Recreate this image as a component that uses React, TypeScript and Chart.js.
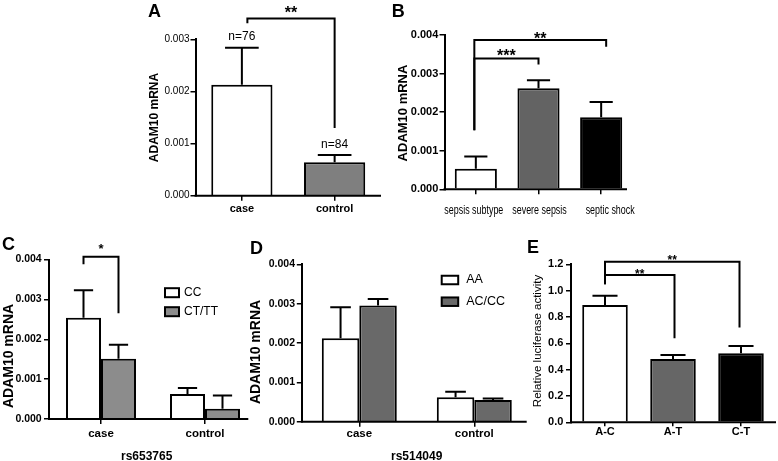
import React, { useEffect, useRef } from 'react';
import { Chart, registerables } from 'chart.js';

Chart.register(...registerables);

const SANS = "'Liberation Sans', Arial, Helvetica, sans-serif";

// ---------- Panel A ----------
const aCategories = ['case', 'control'];
const aMeans = [0.00213, 0.00064];
const aErrors = [0.00071, 0.00014];
const aCounts = ['n=76', 'n=84'];

// ---------- Panel B ----------
const bCategories = ['sepsis subtype', 'severe sepsis', 'septic shock'];
const bMeans = [0.00053, 0.00262, 0.00187];
const bErrors = [0.00032, 0.00021, 0.00039];

// ---------- Panel C (rs653765) ----------
const cCategories = ['case', 'control'];
const cSeriesNames = ['CC', 'CT/TT'];
const cCC = [0.00254, 0.00063];
const cCCErr = [0.00069, 0.00015];
const cCT = [0.00151, 0.00026];
const cCTErr = [0.00035, 0.00033];

// ---------- Panel D (rs514049) ----------
const dCategories = ['case', 'control'];
const dSeriesNames = ['AA', 'AC/CC'];
const dAA = [0.00212, 0.00062];
const dAAErr = [0.00079, 0.00014];
const dAC = [0.00295, 0.00055];
const dACErr = [0.00017, 0.00004];

// ---------- Panel E ----------
const eCategories = ['A-C', 'A-T', 'C-T'];
const eMeans = [0.89, 0.481, 0.524];
const eErrors = [0.072, 0.03, 0.056];

type Series = { label: string; data: number[]; errors: number[]; color: string | string[] };
type Bracket = {
  from: [number, number];
  to: [number, number];
  y: number;
  yFrom: number;
  yTo: number;
  label: string;
  labelY: number;
  size: number;
  dxFrom?: number;
  dxTo?: number;
};
type Panel = {
  key: string;
  canvas: { x: number; y: number; w: number; h: number };
  area: { l: number; r: number; t: number; b: number };
  letter: { text: string; x: number; y: number };
  categories: string[];
  series: Series[];
  yMax: number;
  yStep: number;
  decimals: number;
  catPct: number;
  xEnd: number;
  yTitle: { text: string; x: number; y: number; font: string };
  xTitle?: { text: string; x: number; y: number; font: string };
  yTickFont: { size: number; weight: string; family: string };
  yTickPad: number;
  xTickFont: { size: number; weight: string; family: string };
  xTickPad: number;
  xTickLen: number;
  condensedLabels?: { font: string; scaleX: number; y: number; dx: number[] };
  brackets: Bracket[];
  legend?: { x: number; y: number; gap: number; boxW: number; boxH: number; textGap: number; font: string };
  counts?: string[];
};

const panels: Panel[] = [
  {
    key: 'A',
    canvas: { x: 140, y: 0, w: 250, h: 225 },
    area: { l: 195.5, r: 381, t: 39.3, b: 195.7 },
    letter: { text: 'A', x: 148, y: 17 },
    categories: aCategories,
    series: [{ label: 'ADAM10', data: aMeans, errors: aErrors, color: ['#ffffff', '#7f7f7f'] }],
    yMax: 0.003,
    yStep: 0.001,
    decimals: 3,
    catPct: 0.66,
    xEnd: 381,
    yTitle: { text: 'ADAM10 mRNA', x: 155, y: 117.5, font: `bold 12px ${SANS}` },
    yTickFont: { size: 10, weight: 'normal', family: SANS },
    yTickPad: 1,
    xTickFont: { size: 11, weight: 'bold', family: SANS },
    xTickPad: 1.7,
    xTickLen: 5,
    brackets: [
      { from: [0, 0], to: [0, 1], y: 0.0034, yFrom: 0.00331, yTo: 0.0013, label: '**', labelY: 0.00359, size: 16, dxFrom: 5.5 },
    ],
    counts: aCounts,
  },
  {
    key: 'B',
    canvas: { x: 385, y: 0, w: 265, h: 225 },
    area: { l: 444.5, r: 632.5, t: 35, b: 189.3 },
    letter: { text: 'B', x: 391.7, y: 17 },
    categories: bCategories,
    series: [{ label: 'ADAM10', data: bMeans, errors: bErrors, color: ['#ffffff', '#636363', '#000000'] }],
    yMax: 0.004,
    yStep: 0.001,
    decimals: 3,
    catPct: 0.672,
    xEnd: 627,
    yTitle: { text: 'ADAM10 mRNA', x: 403, y: 113, font: `bold 13px ${SANS}` },
    yTickFont: { size: 11, weight: 'bold', family: SANS },
    yTickPad: 1.2,
    xTickFont: { size: 12, weight: 'normal', family: SANS },
    xTickPad: 8.8,
    xTickLen: 5,
    condensedLabels: { font: `13.5px ${SANS}`, scaleX: 0.66, y: 210.5, dx: [-2, 1, 9] },
    brackets: [
      { from: [0, 0], to: [0, 2], y: 0.003868, yFrom: 0.001534, yTo: 0.003694, label: '**', labelY: 0.00401, size: 16, dxFrom: -1.5, dxTo: 5 },
      { from: [0, 0], to: [0, 1], y: 0.003394, yFrom: 0.001534, yTo: 0.003238, label: '***', labelY: 0.003575, size: 16, dxFrom: -1.5 },
    ],
  },
  {
    key: 'C',
    canvas: { x: 0, y: 228, w: 262, h: 233 },
    area: { l: 49, r: 257, t: 259.5, b: 419 },
    letter: { text: 'C', x: 2, y: 250 },
    categories: cCategories,
    series: [
      { label: cSeriesNames[0], data: cCC, errors: cCCErr, color: '#ffffff' },
      { label: cSeriesNames[1], data: cCT, errors: cCTErr, color: '#8c8c8c' },
    ],
    yMax: 0.004,
    yStep: 0.001,
    decimals: 3,
    catPct: 0.673,
    xEnd: 248.3,
    yTitle: { text: 'ADAM10 mRNA', x: 9.5, y: 356, font: `bold 14px ${SANS}` },
    xTitle: { text: 'rs653765', x: 146.7, y: 457, font: `bold 12px ${SANS}` },
    yTickFont: { size: 10.5, weight: 'bold', family: SANS },
    yTickPad: 2.3,
    xTickFont: { size: 11.5, weight: 'bold', family: SANS },
    xTickPad: 3.1,
    xTickLen: 5,
    brackets: [
      { from: [0, 0], to: [1, 0], y: 0.00407, yFrom: 0.00388, yTo: 0.00265, label: '*', labelY: 0.00435, size: 13 },
    ],
    legend: { x: 165, y: 292.7, gap: 19, boxW: 14, boxH: 9, textGap: 5, font: `12px ${SANS}` },
  },
  {
    key: 'D',
    canvas: { x: 245, y: 228, w: 292, h: 233 },
    area: { l: 301.8, r: 531.8, t: 264.3, b: 421.7 },
    letter: { text: 'D', x: 250, y: 254 },
    categories: dCategories,
    series: [
      { label: dSeriesNames[0], data: dAA, errors: dAAErr, color: '#ffffff' },
      { label: dSeriesNames[1], data: dAC, errors: dACErr, color: '#696969' },
    ],
    yMax: 0.004,
    yStep: 0.001,
    decimals: 3,
    catPct: 0.652,
    xEnd: 526.7,
    yTitle: { text: 'ADAM10 mRNA', x: 256.5, y: 352, font: `bold 14px ${SANS}` },
    xTitle: { text: 'rs514049', x: 416.7, y: 457, font: `bold 12px ${SANS}` },
    yTickFont: { size: 10.5, weight: 'bold', family: SANS },
    yTickPad: 1.8,
    xTickFont: { size: 11.5, weight: 'bold', family: SANS },
    xTickPad: 0.4,
    xTickLen: 5,
    brackets: [],
    legend: { x: 441.7, y: 280, gap: 21.7, boxW: 16.5, boxH: 8.5, textGap: 8, font: `12.5px ${SANS}` },
  },
  {
    key: 'E',
    canvas: { x: 520, y: 228, w: 258, h: 233 },
    area: { l: 571, r: 775, t: 264.3, b: 422.3 },
    letter: { text: 'E', x: 527, y: 253 },
    categories: eCategories,
    series: [{ label: 'Luciferase', data: eMeans, errors: eErrors, color: ['#ffffff', '#666666', '#000000'] }],
    yMax: 1.2,
    yStep: 0.2,
    decimals: 1,
    catPct: 0.67,
    xEnd: 776,
    yTitle: { text: 'Relative luciferase activity', x: 538.3, y: 341, font: `11.5px ${SANS}` },
    yTickFont: { size: 11, weight: 'bold', family: SANS },
    yTickPad: 2.7,
    xTickFont: { size: 11, weight: 'bold', family: SANS },
    xTickPad: -0.6,
    xTickLen: 4,
    brackets: [
      { from: [0, 0], to: [0, 2], y: 1.22, yFrom: 1.048, yTo: 0.72, label: '**', labelY: 1.255, size: 12, dxTo: -1.5 },
      { from: [0, 0], to: [0, 1], y: 1.119, yFrom: 1.048, yTo: 0.638, label: '**', labelY: 1.149, size: 12, dxTo: 1.5 },
    ],
  },
];

function overlayPlugin(p: Panel) {
  const ox = p.canvas.x;
  const oy = p.canvas.y;
  return {
    id: 'overlay' + p.key,
    afterDatasetsDraw(chart: any) {
      const ctx: CanvasRenderingContext2D = chart.ctx;
      const ys = chart.scales.y;
      const xs = chart.scales.x;
      const a = chart.chartArea;
      ctx.save();
      ctx.strokeStyle = '#000';
      ctx.fillStyle = '#000';
      ctx.lineWidth = 2;

      // error bars (upper only)
      p.series.forEach((s, di) => {
        const meta = chart.getDatasetMeta(di);
        meta.data.forEach((el: any, i: number) => {
          const top = ys.getPixelForValue(s.data[i] + s.errors[i]);
          const hw = (el.width * 0.55) / 2;
          ctx.beginPath();
          ctx.moveTo(el.x, el.y);
          ctx.lineTo(el.x, top);
          ctx.moveTo(el.x - hw, top);
          ctx.lineTo(el.x + hw, top);
          ctx.stroke();
        });
      });

      // x axis line
      ctx.beginPath();
      ctx.moveTo(a.left - 1, a.bottom);
      ctx.lineTo(p.xEnd - ox, a.bottom);
      ctx.stroke();

      // condensed category labels (drawn at the category scale positions)
      if (p.condensedLabels) {
        const cl = p.condensedLabels;
        ctx.font = cl.font;
        ctx.textAlign = 'center';
        ctx.textBaseline = 'middle';
        p.categories.forEach((lab, i) => {
          const px = xs.getPixelForValue(i) + cl.dx[i];
          ctx.save();
          ctx.translate(px, cl.y - oy);
          ctx.scale(cl.scaleX, 1);
          ctx.fillText(lab, 0, 0);
          ctx.restore();
        });
      }

      // significance brackets
      p.brackets.forEach((b) => {
        const e1: any = chart.getDatasetMeta(b.from[0]).data[b.from[1]];
        const e2: any = chart.getDatasetMeta(b.to[0]).data[b.to[1]];
        const x1 = e1.x + (b.dxFrom || 0);
        const x2 = e2.x + (b.dxTo || 0);
        const yb = ys.getPixelForValue(b.y);
        ctx.beginPath();
        ctx.lineWidth = 2;
        ctx.moveTo(x1, ys.getPixelForValue(b.yFrom));
        ctx.lineTo(x1, yb);
        ctx.lineTo(x2, yb);
        ctx.lineTo(x2, ys.getPixelForValue(b.yTo));
        ctx.stroke();
        ctx.font = `bold ${b.size}px ${SANS}`;
        ctx.textAlign = 'center';
        ctx.textBaseline = 'alphabetic';
        ctx.fillText(b.label, (x1 + x2) / 2, ys.getPixelForValue(b.labelY) + 0.575 * b.size);
      });

      // n= labels
      if (p.counts) {
        const meta = chart.getDatasetMeta(0);
        ctx.font = `12px ${SANS}`;
        ctx.textAlign = 'center';
        ctx.textBaseline = 'middle';
        meta.data.forEach((el: any, i: number) => {
          const s = p.series[0];
          const top = ys.getPixelForValue(s.data[i] + s.errors[i]);
          ctx.fillText(p.counts![i], el.x, top - 10.5);
        });
      }

      // legend
      if (p.legend) {
        const L = p.legend;
        ctx.font = L.font;
        ctx.textAlign = 'left';
        ctx.textBaseline = 'middle';
        p.series.forEach((s, i) => {
          const cy = L.y - oy + i * L.gap;
          const bx = L.x - ox;
          ctx.fillStyle = s.color as string;
          ctx.fillRect(bx, cy - L.boxH / 2, L.boxW, L.boxH);
          ctx.lineWidth = 2;
          ctx.strokeRect(bx, cy - L.boxH / 2, L.boxW, L.boxH);
          ctx.fillStyle = '#000';
          ctx.fillText(s.label, bx + L.boxW + L.textGap, cy);
        });
      }

      // axis titles
      ctx.fillStyle = '#000';
      ctx.save();
      ctx.translate(p.yTitle.x - ox, p.yTitle.y - oy);
      ctx.rotate(-Math.PI / 2);
      ctx.font = p.yTitle.font;
      ctx.textAlign = 'center';
      ctx.textBaseline = 'middle';
      ctx.fillText(p.yTitle.text, 0, 0);
      ctx.restore();
      if (p.xTitle) {
        ctx.font = p.xTitle.font;
        ctx.textAlign = 'center';
        ctx.textBaseline = 'middle';
        ctx.fillText(p.xTitle.text, p.xTitle.x - ox, p.xTitle.y - oy);
      }

      // panel letter
      ctx.font = `bold 18px ${SANS}`;
      ctx.textAlign = 'left';
      ctx.textBaseline = 'alphabetic';
      ctx.fillText(p.letter.text, p.letter.x - ox, p.letter.y - oy);

      ctx.restore();
    },
  };
}

function buildConfig(p: Panel): any {
  const c = p.canvas;
  const ar = p.area;
  return {
    type: 'bar',
    data: {
      labels: p.categories,
      datasets: p.series.map((s) => ({
        label: s.label,
        data: s.data,
        backgroundColor: s.color,
        borderColor: '#000000',
        borderWidth: 2,
        categoryPercentage: p.catPct,
        barPercentage: 1,
      })),
    },
    options: {
      responsive: false,
      maintainAspectRatio: false,
      animation: false,
      devicePixelRatio: 1,
      events: [],
      layout: {
        padding: { left: 0, top: ar.t - c.y, right: c.x + c.w - ar.r, bottom: 0 },
      },
      plugins: { legend: { display: false }, tooltip: { enabled: false } },
      scales: {
        x: {
          type: 'category',
          offset: true,
          border: { display: false },
          grid: {
            display: true,
            drawOnChartArea: false,
            drawTicks: true,
            tickLength: p.xTickLen,
            offset: false,
            color: '#000',
            lineWidth: 1.5,
          },
          ticks: {
            display: !p.condensedLabels,
            color: '#000',
            font: p.xTickFont,
            padding: p.xTickPad,
            maxRotation: 0,
            autoSkip: false,
          },
          afterFit: (s: any) => {
            s.height = c.y + c.h - ar.b;
          },
        },
        y: {
          min: 0,
          max: p.yMax,
          border: { display: true, color: '#000', width: 2 },
          grid: {
            display: true,
            drawOnChartArea: false,
            drawTicks: true,
            tickLength: 5,
            color: '#000',
            lineWidth: 1.5,
          },
          ticks: {
            stepSize: p.yStep,
            color: '#000',
            font: p.yTickFont,
            padding: p.yTickPad,
            callback: (v: any) => Number(v).toFixed(p.decimals),
          },
          afterFit: (s: any) => {
            s.width = ar.l - c.x;
          },
        },
      },
    },
    plugins: [overlayPlugin(p)],
  };
}

function PanelChart({ p }: { p: Panel }) {
  const ref = useRef<HTMLCanvasElement>(null);
  useEffect(() => {
    if (!ref.current) return;
    const chart = new Chart(ref.current, buildConfig(p));
    return () => chart.destroy();
  }, [p]);
  return (
    <canvas
      ref={ref}
      width={p.canvas.w}
      height={p.canvas.h}
      style={{ position: 'absolute', left: p.canvas.x, top: p.canvas.y, width: p.canvas.w, height: p.canvas.h }}
    />
  );
}

export default function App() {
  return (
    <div
      style={{
        position: 'absolute',
        left: 0,
        top: 0,
        width: 778,
        height: 461,
        overflow: 'hidden',
        background: '#ffffff',
      }}
    >
      {panels.map((p) => (
        <PanelChart key={p.key} p={p} />
      ))}
    </div>
  );
}
